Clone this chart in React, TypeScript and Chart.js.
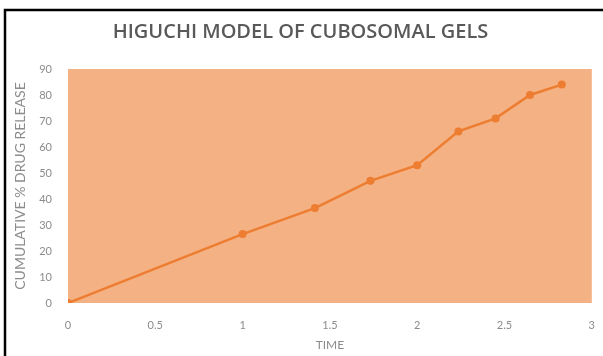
import React, { useEffect, useRef } from "react";
import { Chart, registerables } from "chart.js";

Chart.register(...registerables);

const chartTitle = "HIGUCHI MODEL OF CUBOSOMAL GELS";
const xTitle = "TIME";
const yTitle = "CUMULATIVE % DRUG RELEASE";
const sqrtTime = [0, 1, 1.414, 1.732, 2, 2.236, 2.449, 2.646, 2.828];
const release = [0, 26.5, 36.5, 47, 53, 66, 71, 80, 84];

const bgPlugin = {
  id: "bgPlugin",
  beforeDraw(chart: any) {
    const { ctx, chartArea } = chart;
    ctx.save();
    ctx.fillStyle = "#ffffff";
    ctx.fillRect(0, 0, chart.width, chart.height);
    ctx.fillStyle = "#F4B183";
    ctx.fillRect(chartArea.left, chartArea.top, chartArea.right - chartArea.left, chartArea.bottom - chartArea.top);
    ctx.strokeStyle = "#000000";
    ctx.lineWidth = 2.5;
    ctx.beginPath();
    ctx.moveTo(5, chart.height + 2);
    ctx.lineTo(5, 10);
    ctx.lineTo(chart.width + 2, 10);
    ctx.stroke();
    ctx.restore();
  },
};

export default function App() {
  const ref = useRef<HTMLCanvasElement>(null);
  useEffect(() => {
    document.body.style.margin = "0";
    const font = "Lato, 'Open Sans', sans-serif";
    const chart = new Chart(ref.current!, {
      type: "scatter",
      data: {
        datasets: [
          {
            data: sqrtTime.map((x, i) => ({ x, y: release[i] })),
            showLine: true,
            borderColor: "#ED7D31",
            backgroundColor: "#ED7D31",
            borderWidth: 2.5,
            pointRadius: 4,
            pointBorderWidth: 0,
          },
        ],
      },
      options: {
        animation: false,
        responsive: false,
        layout: { padding: { left: 8, right: 10, top: 0, bottom: 0 } },
        plugins: {
          legend: { display: false },
          tooltip: { enabled: false },
          title: {
            display: true,
            text: chartTitle,
            color: "#595959",
            font: { family: "'Open Sans', sans-serif", size: 20, weight: "600" },
            padding: { top: 20, bottom: 25 },
          },
        },
        scales: {
          x: {
            type: "linear",
            min: 0,
            max: 3,
            ticks: {
              stepSize: 0.5,
              color: "#8c8c8c",
              font: { family: font, size: 11 },
              padding: 8,
              callback: (v: any) => String(Number(v)),
            },
            grid: { display: false },
            border: { display: false },
            title: { display: true, text: xTitle, color: "#8c8c8c", font: { family: font, size: 12 }, padding: { top: 6 } },
            afterFit(scale: any) {
              scale.height = 53;
            },
          },
          y: {
            min: 0,
            max: 90,
            ticks: { stepSize: 10, color: "#8c8c8c", font: { family: font, size: 11 }, padding: 8 },
            grid: { display: false },
            border: { display: false },
            title: { display: true, text: yTitle, color: "#8c8c8c", font: { family: font, size: 14 } },
            afterFit(scale: any) {
              scale.width = 60;
            },
          },
        },
      },
      plugins: [bgPlugin],
    });
    return () => chart.destroy();
  }, []);
  return (
    <div style={{ width: 603, height: 356 }}>
      <canvas ref={ref} width={603} height={356} style={{ width: 603, height: 356 }} />
    </div>
  );
}
